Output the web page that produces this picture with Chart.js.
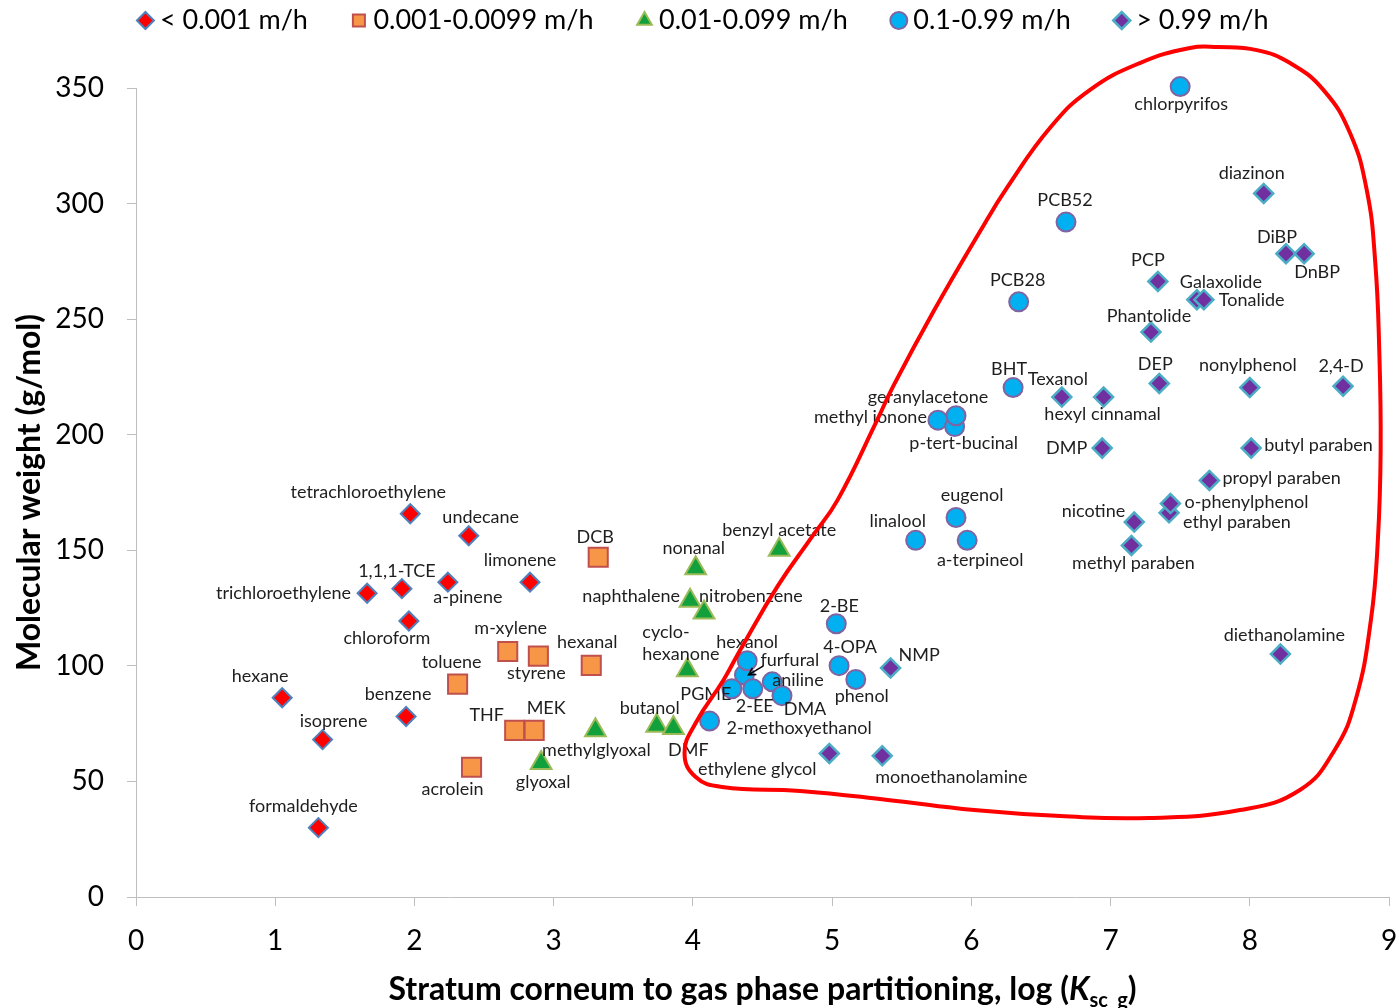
<!DOCTYPE html>
<html>
<head>
<meta charset="utf-8">
<title>Molecular weight vs. stratum corneum partitioning</title>
<script src="https://cdn.jsdelivr.net/npm/chart.js@4.4.0/dist/chart.umd.min.js"></script>
<style>
  html, body { margin: 0; padding: 0; background: #fff; }
  #wrap { width: 1399px; height: 1008px; position: relative; }
</style>
</head>
<body>
<div id="wrap"><canvas id="chart"></canvas></div>
<script>
'use strict';

// legend text for the five deposition-velocity bins
const seriesLabels = ['< 0.001 m/h', '0.001-0.0099 m/h', '0.01-0.099 m/h', '0.1-0.99 m/h', '> 0.99 m/h'];

const xTicks = [0, 1, 2, 3, 4, 5, 6, 7, 8, 9];
const yTicks = [0, 50, 100, 150, 200, 250, 300, 350];

// bin 1: < 0.001 m/h
const bin1Names = ['tetrachloroethylene', 'undecane', 'limonene', '1,1,1-TCE', 'a-pinene', 'trichloroethylene',
  'chloroform', 'hexane', 'benzene', 'isoprene', 'formaldehyde'];
const bin1LogK = [1.97, 2.39, 2.83, 1.91, 2.24, 1.66, 1.96, 1.05, 1.94, 1.34, 1.31];
const bin1MW = [165.8, 156.3, 136.2, 133.4, 136.2, 131.4, 119.4, 86.2, 78.1, 68.1, 30.0];

// bin 2: 0.001-0.0099 m/h
const bin2Names = ['DCB', 'm-xylene', 'styrene', 'hexanal', 'toluene', 'THF', 'MEK', 'acrolein'];
const bin2LogK = [3.32, 2.67, 2.89, 3.27, 2.31, 2.72, 2.86, 2.41];
const bin2MW = [147.0, 106.2, 104.2, 100.2, 92.1, 72.1, 72.1, 56.1];

// bin 3: 0.01-0.099 m/h
const bin3Names = ['benzyl acetate', 'nonanal', 'naphthalene', 'nitrobenzene', 'cyclohexanone', 'methylglyoxal',
  'glyoxal', 'butanol', 'DMF'];
const bin3LogK = [4.62, 4.02, 3.98, 4.08, 3.96, 3.30, 2.91, 3.74, 3.86];
const bin3MW = [150.2, 142.2, 128.2, 123.1, 98.1, 72.1, 58.0, 74.1, 73.1];

// bin 4: 0.1-0.99 m/h
const bin4Names = ['chlorpyrifos', 'PCB52', 'PCB28', 'BHT', 'methyl ionone', 'p-tert-bucinal', 'geranylacetone',
  'eugenol', 'linalool', 'a-terpineol', '2-BE', '4-OPA', 'phenol', 'furfural', 'hexanol', 'PGME', '2-EE',
  'aniline', 'DMA', '2-methoxyethanol'];
const bin4LogK = [7.50, 6.68, 6.34, 6.30, 5.76, 5.88, 5.89, 5.89, 5.60, 5.97, 5.03, 5.05, 5.17, 4.37, 4.39,
  4.28, 4.43, 4.57, 4.64, 4.12];
const bin4MW = [350.6, 292.0, 257.5, 220.4, 206.3, 203.5, 208.2, 164.2, 154.3, 154.3, 118.2, 100.1, 94.1,
  96.1, 102.2, 90.1, 90.1, 93.1, 87.1, 76.1];

// bin 5: > 0.99 m/h
const bin5Names = ['diazinon', 'DiBP', 'DnBP', 'PCP', 'Galaxolide', 'Tonalide', 'Phantolide', 'DEP',
  'nonylphenol', '2,4-D', 'Texanol', 'hexyl cinnamal', 'DMP', 'butyl paraben', 'propyl paraben',
  'ethyl paraben', 'o-phenylphenol', 'nicotine', 'methyl paraben', 'diethanolamine', 'NMP',
  'ethylene glycol', 'monoethanolamine'];
const bin5LogK = [8.10, 8.26, 8.39, 7.34, 7.62, 7.67, 7.29, 7.35, 8.00, 8.67, 6.65, 6.95, 6.94, 8.01, 7.71,
  7.42, 7.43, 7.17, 7.15, 8.22, 5.42, 4.98, 5.36];
const bin5MW = [304.4, 278.3, 278.3, 266.3, 258.4, 258.4, 244.4, 222.2, 220.4, 221.0, 216.3, 216.3, 194.2,
  194.2, 180.2, 166.2, 170.2, 162.2, 152.1, 105.1, 99.1, 62.1, 61.1];

// hand-drawn outline around the fast-depositing compounds (closed path)
const loopLogK = [4.86, 5.04, 5.32, 5.44, 5.73, 6.06, 6.26, 6.57, 6.85, 7.21, 7.57, 7.77, 8.05, 8.29, 8.53,
  8.72, 8.84, 8.90, 8.93, 8.94, 8.92, 8.87, 8.76, 8.61, 8.36, 7.93, 7.28, 6.64, 6.02, 5.40, 4.77, 4.21,
  4.02, 3.94, 4.02, 4.22, 4.34, 4.61, 4.86];
const loopMW = [156.2, 171.8, 205.9, 221.1, 253.5, 287.7, 307.2, 333.1, 349.1, 360.8, 367.3, 367.7, 366.4,
  360.8, 349.1, 330.5, 305.9, 275.6, 236.7, 193.4, 154.5, 119.8, 85.2, 63.6, 46.3, 37.6, 34.2, 35.0, 37.6,
  42.0, 45.9, 47.6, 51.9, 62.3, 75.3, 93.9, 106.9, 134.6, 156.2];

// where each name sits next to its marker: [dx, dy, textAlign] in px
const labelPlacement = {
  'tetrachloroethylene': [-42, -22], 'undecane': [12, -19], 'limonene': [-10, -22],
  '1,1,1-TCE': [-5, -17], 'a-pinene': [20, 15], 'trichloroethylene': [-16, 0, 'right'],
  'chloroform': [-22, 17], 'hexane': [-22, -22], 'benzene': [-8, -22], 'isoprene': [11, -18],
  'formaldehyde': [-15, -21],
  'DCB': [-3, -20], 'm-xylene': [3, -23], 'styrene': [-2, 17], 'hexanal': [-4, -23],
  'toluene': [-6, -22], 'THF': [-28, -15], 'MEK': [12, -22], 'acrolein': [-19, 22],
  'benzyl acetate': [0, -20], 'nonanal': [-2, -20], 'naphthalene': [-10, -4, 'right'],
  'nitrobenzene': [-5, -16, 'left'], 'cyclohexanone': [-45, -27, 'left'], 'methylglyoxal': [1, 20],
  'glyoxal': [2, 19], 'butanol': [-7, -18], 'DMF': [15, 22],
  'chlorpyrifos': [1, 18], 'PCB52': [-1, -22], 'PCB28': [-1, -22], 'BHT': [-4, -18],
  'geranylacetone': [-28, -19], 'methyl ionone': [-11, -3, 'right'], 'p-tert-bucinal': [9, 17],
  'eugenol': [16, -22], 'linalool': [-18, -19], 'a-terpineol': [13, 20], '2-BE': [3, -18],
  '4-OPA': [11, -18], 'phenol': [6, 17], 'hexanol': [0, -19], 'furfural': [16, -15, 'left'],
  'aniline': [0, -2, 'left'], 'PGME': [-26, 5], '2-EE': [2, 17], 'DMA': [23, 14],
  '2-methoxyethanol': [17, 7, 'left'],
  'diazinon': [-12, -20], 'DiBP': [-9, -17], 'DnBP': [13, 18], 'PCP': [-10, -21],
  'Galaxolide': [24, -18], 'Tonalide': [15, 0, 'left'], 'Phantolide': [-2, -16], 'DEP': [-4, -19],
  'nonylphenol': [-2, -22], '2,4-D': [-2, -20], 'Texanol': [-4, -18], 'hexyl cinnamal': [-1, 17],
  'DMP': [-15, 0, 'right'], 'butyl paraben': [13, -3, 'left'], 'propyl paraben': [13, -2, 'left'],
  'o-phenylphenol': [14, -1, 'left'], 'ethyl paraben': [14, 9, 'left'], 'nicotine': [-9, -11, 'right'],
  'methyl paraben': [2, 18], 'diethanolamine': [4, -19], 'NMP': [8, -13, 'left'],
  'ethylene glycol': [-72, 16], 'monoethanolamine': [-7, 21, 'left']
};
const labelLines = { 'cyclohexanone': ['cyclo-', 'hexanone'] };
// small pointer from the furfural label to its circle
const labelArrows = { 'furfural': [[19, -9], [4, 0]] };

const LABEL_FONT = '18px Lato';

function points(xs, ys, names) {
  return xs.map((x, i) => ({x: x, y: ys[i], name: names[i]}));
}

function markerSet(label, data, shape, radius, fill, edge, edgeWidth) {
  return {
    label: label,
    data: data,
    pointStyle: shape,
    pointRadius: radius,
    pointHoverRadius: radius,
    backgroundColor: fill,
    borderColor: edge,
    borderWidth: edgeWidth,
    pointBorderWidth: edgeWidth,
    clip: false,
    isSeries: true
  };
}

const datasets = [
  markerSet(seriesLabels[0], points(bin1LogK, bin1MW, bin1Names), 'rectRot', 9.5, '#ff0000', '#4f81bd', 2),
  markerSet(seriesLabels[1], points(bin2LogK, bin2MW, bin2Names), 'rect', 13.5, '#f79646', '#c0504d', 2),
  markerSet(seriesLabels[2], points(bin3LogK, bin3MW, bin3Names), 'triangle', 12, '#12a03c', '#9bbb59', 2),
  markerSet(seriesLabels[3], points(bin4LogK, bin4MW, bin4Names), 'circle', 9.5, '#00b0f0', '#8064a2', 2),
  markerSet(seriesLabels[4], points(bin5LogK, bin5MW, bin5Names), 'rectRot', 9.5, '#7030a0', '#4bacc6', 2.5),
  {
    label: 'outline',
    data: loopLogK.map((x, i) => ({x: x, y: loopMW[i]})),
    showLine: true,
    borderColor: '#ff0000',
    borderWidth: 4,
    pointRadius: 0,
    tension: 0.45,
    capBezierPoints: false,
    fill: false,
    clip: false,
    order: -1
  }
];
const LOOP_INDEX = datasets.length - 1;

// draws the compound names; runs just before the outline so the outline stays on top
const pointLabels = {
  id: 'pointLabels',
  beforeDatasetDraw(chart, args) {
    if (args.index !== LOOP_INDEX) return;
    const ctx = chart.ctx;
    ctx.save();
    ctx.font = LABEL_FONT;
    ctx.fillStyle = '#1e1e1e';
    ctx.textBaseline = 'middle';
    chart.data.datasets.forEach((ds, di) => {
      if (!ds.isSeries) return;
      const meta = chart.getDatasetMeta(di);
      meta.data.forEach((el, i) => {
        const name = ds.data[i].name;
        const place = labelPlacement[name] || [0, -20];
        const dx = place[0], dy = place[1];
        ctx.textAlign = place[2] || 'center';
        const lines = labelLines[name] || [name];
        const lh = 22;
        lines.forEach((line, k) => {
          const off = (k - (lines.length - 1) / 2) * lh;
          ctx.fillText(line, el.x + dx, el.y + dy + off);
        });
        const arrow = labelArrows[name];
        if (arrow) {
          const x0 = el.x + arrow[0][0], y0 = el.y + arrow[0][1];
          const x1 = el.x + arrow[1][0], y1 = el.y + arrow[1][1];
          const ang = Math.atan2(y1 - y0, x1 - x0);
          ctx.strokeStyle = '#000';
          ctx.lineWidth = 1.5;
          ctx.beginPath();
          ctx.moveTo(x0, y0);
          ctx.lineTo(x1, y1);
          ctx.moveTo(x1 + 8 * Math.cos(ang + Math.PI - 0.5), y1 + 8 * Math.sin(ang + Math.PI - 0.5));
          ctx.lineTo(x1, y1);
          ctx.lineTo(x1 + 8 * Math.cos(ang + Math.PI + 0.5), y1 + 8 * Math.sin(ang + Math.PI + 0.5));
          ctx.stroke();
        }
      });
    });
    ctx.restore();
  }
};

// x-axis title has an italic K with a subscript, so it is set by hand
const xAxisTitle = {
  id: 'xAxisTitle',
  afterDraw(chart) {
    const ctx = chart.ctx;
    const area = chart.chartArea;
    const parts = [
      {text: 'Stratum corneum to gas phase partitioning, log (', font: 'bold 32px Lato', dy: 0},
      {text: 'K', font: 'italic bold 32px Lato', dy: 0},
      {text: 'sc_g', font: 'bold 20px Lato', dy: 7},
      {text: ')', font: 'bold 32px Lato', dy: 0}
    ];
    ctx.save();
    let total = 0;
    parts.forEach(p => { ctx.font = p.font; p.w = ctx.measureText(p.text).width; total += p.w; });
    let x = (area.left + area.right) / 2 - total / 2;
    const base = 1000;
    ctx.fillStyle = '#000';
    ctx.textBaseline = 'alphabetic';
    ctx.textAlign = 'left';
    parts.forEach(p => {
      ctx.font = p.font;
      ctx.fillText(p.text, x, base + p.dy);
      x += p.w;
    });
    ctx.restore();
  }
};

const axisGray = '#bfbfbf';

new Chart(document.getElementById('chart'), {
  type: 'scatter',
  data: { datasets: datasets },
  options: {
    responsive: true,
    maintainAspectRatio: false,
    animation: false,
    events: [],
    layout: { autoPadding: false, padding: { top: -43, right: 0, left: 14, bottom: 0 } },
    elements: { line: { capBezierPoints: false } },
    plugins: {
      tooltip: { enabled: false },
      legend: {
        position: 'top',
        labels: {
          usePointStyle: true,
          boxWidth: 2,
          boxHeight: 12,
          padding: 50,
          color: '#000',
          font: { family: 'Lato', size: 27 },
          filter: item => item.datasetIndex !== LOOP_INDEX
        }
      },
      // empty title used only as a gap between legend and plot
      title: {
        display: true,
        text: '',
        weight: 500,
        font: { size: 10, lineHeight: 1 },
        padding: { top: 0, bottom: 34 }
      }
    },
    scales: {
      x: {
        type: 'linear',
        min: xTicks[0],
        max: xTicks[xTicks.length - 1],
        afterBuildTicks: s => { s.ticks = xTicks.map(v => ({value: v})); },
        afterFit: s => {
          s.height = 111;
          s.paddingLeft = 0;
          s.paddingRight = 10;
        },
        grid: { drawOnChartArea: false, color: axisGray, tickLength: 9 },
        border: { color: axisGray, width: 1 },
        ticks: { color: '#000', font: { family: 'Lato', size: 28 }, padding: 18, maxRotation: 0 }
      },
      y: {
        type: 'linear',
        min: yTicks[0],
        max: yTicks[yTicks.length - 1],
        afterBuildTicks: s => { s.ticks = yTicks.map(v => ({value: v})); },
        afterFit: s => { s.width = 122; },
        grid: { drawOnChartArea: false, color: axisGray, tickLength: 9 },
        border: { color: axisGray, width: 1 },
        ticks: { color: '#000', font: { family: 'Lato', size: 28 }, padding: 23 },
        title: {
          display: true,
          text: 'Molecular weight (g/mol)',
          color: '#000',
          font: { family: 'Lato', size: 32, weight: 'bold', lineHeight: 1 },
          padding: { top: 0, bottom: 0 }
        }
      }
    }
  },
  plugins: [pointLabels, xAxisTitle]
});
</script>
</body>
</html>
